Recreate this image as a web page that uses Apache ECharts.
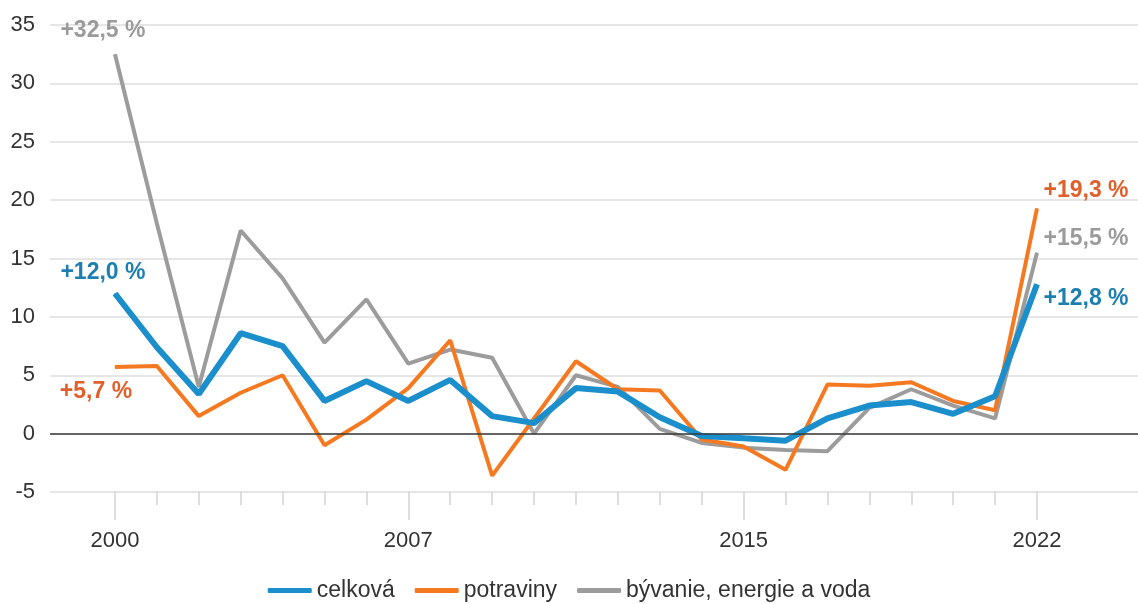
<!DOCTYPE html>
<html>
<head>
<meta charset="utf-8">
<script src="https://cdn.jsdelivr.net/npm/echarts@6/dist/echarts.min.js"></script>
<style>
  html, body { margin: 0; padding: 0; background: #fff; }
  #main { width: 1138px; height: 604px; }
</style>
</head>
<body>
<div id="main"></div>
<script>
const years = [2000, 2001, 2002, 2003, 2004, 2005, 2006, 2007, 2008, 2009, 2010, 2011,
               2012, 2013, 2014, 2015, 2016, 2017, 2018, 2019, 2020, 2021, 2022];
const labelYears = [2000, 2007, 2015, 2022];
const yTicks = [-5, 0, 5, 10, 15, 20, 25, 30, 35];

const celkova   = [12.0, 7.4, 3.4, 8.6, 7.5, 2.8, 4.5, 2.8, 4.6, 1.5, 0.9, 3.9,
                   3.6, 1.4, -0.2, -0.4, -0.6, 1.3, 2.4, 2.7, 1.7, 3.2, 12.8];
const potraviny = [5.7, 5.8, 1.5, 3.5, 5.0, -1.0, 1.2, 3.9, 8.0, -3.6, 1.3, 6.2,
                   3.8, 3.7, -0.5, -1.1, -3.1, 4.2, 4.1, 4.4, 2.8, 2.0, 19.3];
const byvanie   = [32.5, 18.0, 4.0, 17.4, 13.3, 7.8, 11.5, 6.0, 7.2, 6.5, 0.0, 5.0,
                   4.0, 0.4, -0.8, -1.2, -1.4, -1.5, 2.2, 3.8, 2.4, 1.3, 15.5];

const font = '"Liberation Sans", Arial, sans-serif';

function pct(v) {
    return '+' + v.toFixed(1).replace('.', ',') + ' %';
}

// data points with labels only on first and last year
function build(values, color, firstOff, lastOff) {
    return years.map((y, i) => {
        const item = { value: [y, values[i]] };
        let off = null;
        if (i === 0) off = firstOff;
        if (i === years.length - 1) off = lastOff;
        if (off) {
            item.label = {
                show: true,
                position: 'inside',
                offset: off,
                formatter: pct(values[i]),
                color: color,
                fontSize: 23,
                fontWeight: 'bold',
                fontFamily: font
            };
        }
        return item;
    });
}

const chart = echarts.init(document.getElementById('main'));

const xBase = {
    type: 'value',
    min: 1998.45,
    max: 2024.41,
    position: 'bottom',
    axisLine: { show: false, onZero: false },
    splitLine: { show: false }
};

const option = {
    animation: false,
    grid: { left: 50, right: 0, top: 25, bottom: 112 },
    legend: {
        data: ['celková', 'potraviny', 'bývanie, energie a voda'],
        left: 'center',
        top: 574,
        icon: 'roundRect',
        itemWidth: 44,
        itemHeight: 5,
        itemGap: 20,
        textStyle: { fontSize: 23, color: '#333', fontFamily: font }
    },
    xAxis: [
        Object.assign({}, xBase, {
            axisTick: {
                customValues: years,
                length: 13,
                lineStyle: { color: '#d4d4d4', width: 1.5 }
            },
            axisLabel: { show: false }
        }),
        Object.assign({}, xBase, {
            axisTick: {
                customValues: labelYears,
                length: 28,
                lineStyle: { color: '#d4d4d4', width: 1.5 }
            },
            axisLabel: {
                customValues: labelYears,
                formatter: v => String(v),
                margin: 38,
                fontSize: 22,
                color: '#333',
                fontFamily: font
            }
        })
    ],
    yAxis: {
        type: 'value',
        min: -5,
        max: 35,
        interval: 5,
        axisLine: { show: false },
        axisTick: { show: false },
        axisLabel: {
            margin: 15,
            fontSize: 22,
            color: '#333',
            fontFamily: font,
            customValues: yTicks
        },
        splitLine: { lineStyle: { color: '#dedede', width: 1.5 } }
    },
    series: [
        {
            name: 'bývanie, energie a voda',
            type: 'line',
            symbol: 'circle',
            symbolSize: 1,
            color: '#9c9c9c',
            lineStyle: { width: 4, color: '#9c9c9c' },
            data: build(byvanie, '#9b9b9b', [-12, -24], [49, -14]),
            markLine: {
                silent: true,
                symbol: 'none',
                label: { show: false },
                lineStyle: { color: '#3a3a3a', width: 1.5, type: 'solid' },
                data: [{ yAxis: 0 }]
            }
        },
        {
            name: 'potraviny',
            type: 'line',
            symbol: 'circle',
            symbolSize: 1,
            color: '#f47920',
            lineStyle: { width: 4, color: '#f47920' },
            data: build(potraviny, '#e0602c', [-19, 25], [49, -18])
        },
        {
            name: 'celková',
            type: 'line',
            symbol: 'circle',
            symbolSize: 1,
            color: '#1b8ecc',
            lineStyle: { width: 6, color: '#1b8ecc' },
            data: build(celkova, '#1c7fb0', [-12, -21], [49, 14])
        }
    ]
};

chart.setOption(option);
window.addEventListener('resize', () => {
    chart.resize();
});
</script>
</body>
</html>
